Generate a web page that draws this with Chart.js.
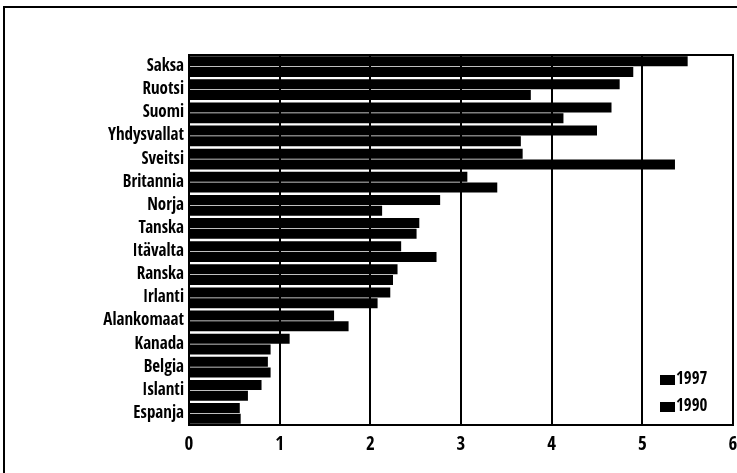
<!DOCTYPE html>
<html>
<head>
<meta charset="utf-8">
<script src="https://cdn.jsdelivr.net/npm/chart.js@4"></script>
<style>
  html, body { margin: 0; padding: 0; background: #fff; }
  #wrap { width: 737px; height: 473px; }
</style>
</head>
<body>
<div id="wrap"><canvas id="chart" width="737" height="473"></canvas></div>
<script>
const countries = ["Saksa", "Ruotsi", "Suomi", "Yhdysvallat", "Sveitsi", "Britannia", "Norja", "Tanska",
    "Itävalta", "Ranska", "Irlanti", "Alankomaat", "Kanada", "Belgia", "Islanti", "Espanja"];
const values1997 = [5.50, 4.75, 4.66, 4.50, 3.68, 3.07, 2.77, 2.54, 2.34, 2.30, 2.22, 1.60, 1.11, 0.87, 0.80, 0.56];
const values1990 = [4.90, 3.77, 4.13, 3.66, 5.36, 3.40, 2.13, 2.51, 2.73, 2.25, 2.08, 1.76, 0.90, 0.90, 0.65, 0.57];
const seriesNames = ["1997", "1990"];
const xTicks = [0, 1, 2, 3, 4, 5, 6];

// pick the narrowest installed font so the labels look condensed like the print
function pickFont() {
    const c = document.createElement("canvas").getContext("2d");
    const sample = "Yhdysvallat 1997";
    c.font = "bold 16px monospace";
    const mono = c.measureText(sample).width;
    const candidates = ["Liberation Sans Narrow", "DejaVu Sans Condensed", "Roboto Condensed",
        "Open Sans Condensed", "Roboto", "Liberation Sans", "Lato"];
    let best = "sans-serif", bestW = Infinity;
    candidates.forEach(f => {
        c.font = "bold 16px '" + f + "', monospace";
        const w = c.measureText(sample).width;
        if (Math.abs(w - mono) > 0.5 && w < bestW) {
            bestW = w;
            best = "'" + f + "'";
        }
    });
    return best + ", sans-serif";
}
const fontFamily = pickFont();

// frame around the whole figure and box around the plot
const framePlugin = {
    id: "frame",
    afterDraw(chart) {
        const ctx = chart.ctx;
        const a = chart.chartArea;
        ctx.save();
        ctx.strokeStyle = "#000";
        ctx.lineWidth = 2;
        ctx.strokeRect(4, 7, 800, 800);
        ctx.strokeRect(a.left, a.top, a.right - a.left, a.bottom - a.top);
        ctx.restore();
    }
};

// small legend in the lower right corner of the plot
const legendPlugin = {
    id: "cornerLegend",
    afterDraw(chart) {
        const ctx = chart.ctx;
        const a = chart.chartArea;
        ctx.save();
        ctx.font = "bold 17px " + fontFamily;
        ctx.textBaseline = "middle";
        chart.data.datasets.forEach((ds, i) => {
            const y = a.bottom - 45 + i * 27;
            ctx.fillStyle = "#000";
            ctx.fillRect(a.right - 73, y - 5, 15, 10);
            ctx.fillText(ds.label, a.right - 57, y);
        });
        ctx.restore();
    }
};

new Chart(document.getElementById("chart"), {
    type: "bar",
    data: {
        labels: countries,
        datasets: [
            { label: seriesNames[0], data: values1997, backgroundColor: "#000", borderWidth: 0 },
            { label: seriesNames[1], data: values1990, backgroundColor: "#000", borderWidth: 0 }
        ]
    },
    options: {
        indexAxis: "y",
        responsive: false,
        animation: false,
        layout: { padding: { top: 55, right: 4, left: 0, bottom: 0 } },
        datasets: { bar: { barPercentage: 0.92, categoryPercentage: 0.93 } },
        plugins: { legend: { display: false }, tooltip: { enabled: false } },
        scales: {
            x: {
                min: 0,
                max: 6,
                afterBuildTicks(scale) {
                    scale.ticks = xTicks.map(v => ({ value: v }));
                },
                afterFit(scale) {
                    scale.height = 48;
                    scale.paddingRight = 0;
                    scale.paddingLeft = 0;
                },
                grid: { color: "#000", lineWidth: 2, drawTicks: false },
                border: { display: false },
                ticks: {
                    color: "#000",
                    padding: 9,
                    font: { family: fontFamily, size: 19, weight: "bold" }
                }
            },
            y: {
                afterFit(scale) { scale.width = 189; },
                grid: { display: false, drawTicks: false },
                border: { display: false },
                ticks: {
                    color: "#000",
                    padding: 5,
                    autoSkip: false,
                    font: (c) => ({
                        family: fontFamily,
                        size: 17,
                        weight: countries[c.index] === "Suomi" ? "900" : "bold"
                    })
                }
            }
        }
    },
    plugins: [framePlugin, legendPlugin]
});
</script>
</body>
</html>
